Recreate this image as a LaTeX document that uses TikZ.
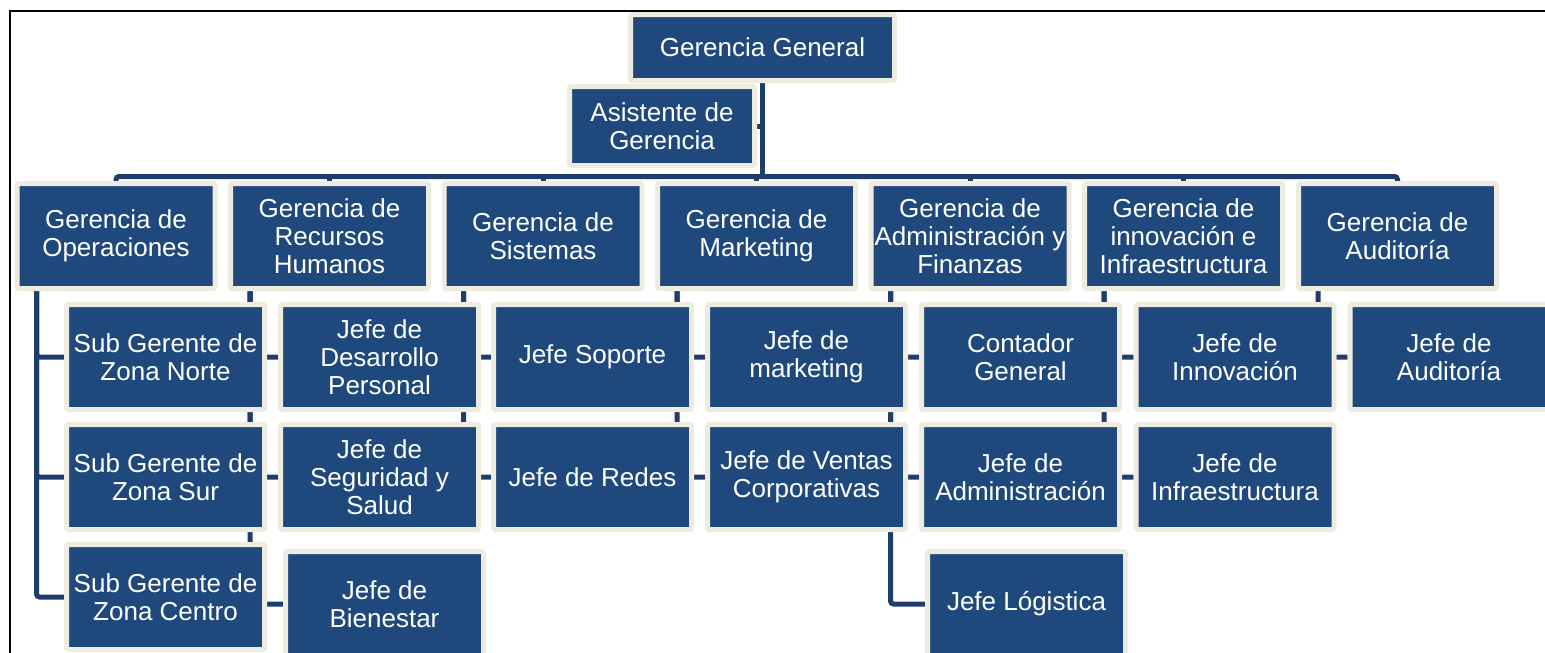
\documentclass[tikz,border=0pt]{standalone}
\usepackage{fontspec}
\setmainfont{Liberation Sans}
\usetikzlibrary{backgrounds}
\definecolor{boxblue}{HTML}{1F497D}
\definecolor{boxcream}{HTML}{EEECE1}
\definecolor{linkblue}{HTML}{1F3D6B}
\tikzset{
  orgbox/.style={draw=boxcream, fill=boxblue, line width=5pt, text=white, align=center,
    font=\fontsize{26}{28}\selectfont, inner sep=0pt, rounded corners=1.5pt},
  gbox/.style={orgbox, minimum width=198pt, minimum height=105pt},
  link/.style={draw=linkblue, line width=5pt},
  frameline/.style={draw=black, line width=2pt}
}
\begin{document}
\begin{tikzpicture}[x=1pt,y=-1pt]
\useasboundingbox (0,0) rectangle (1545,653);
% top level
\node[orgbox, minimum width=264pt, minimum height=66pt] (gg) at (762.5,47.5) {Gerencia General};
\node[orgbox, minimum width=185pt, minimum height=79pt] (asis) at (662,126) {Asistente de\\Gerencia};
% gerencias
\node[gbox] (gop) at (116,236) {Gerencia de\\Operaciones};
\node[gbox] (grh) at (329.5,236) {Gerencia de\\Recursos\\Humanos};
\node[gbox] (gsi) at (543,236) {Gerencia de\\Sistemas};
\node[gbox] (gmk) at (756.5,236) {Gerencia de\\Marketing};
\node[gbox] (gaf) at (970,236) {Gerencia de\\Administración y\\Finanzas};
\node[gbox] (gin) at (1183.5,236) {Gerencia de\\innovación e\\Infraestructura};
\node[gbox] (gau) at (1397.5,236) {Gerencia de\\Auditoría};
% row 1
\node[gbox] (sz1) at (165.5,357) {Sub Gerente de\\Zona Norte};
\node[gbox] (jdp) at (379.5,357) {Jefe de\\Desarrollo\\Personal};
\node[gbox] (jsop) at (592.5,357) {Jefe Soporte};
\node[gbox] (jmk) at (806.5,357) {Jefe de\\marketing};
\node[gbox] (jcont) at (1020.5,357) {Contador\\General};
\node[gbox] (jinn) at (1235,357) {Jefe de\\Innovación};
\node[gbox] (jaud) at (1449,357) {Jefe de\\Auditoría};
% row 2
\node[gbox] (sz2) at (165.5,477) {Sub Gerente de\\Zona Sur};
\node[gbox] (jseg) at (379.5,477) {Jefe de\\Seguridad y\\Salud};
\node[gbox] (jred) at (592.5,477) {Jefe de Redes};
\node[gbox] (jven) at (806.5,477) {Jefe de Ventas\\Corporativas};
\node[gbox] (jadm) at (1020.5,477) {Jefe de\\Administración};
\node[gbox] (jinf) at (1235,477) {Jefe de\\Infraestructura};
% row 3
\node[gbox] (sz3) at (165.5,597) {Sub Gerente de\\Zona Centro};
\node[gbox] (jbien) at (384.5,604) {Jefe de\\Bienestar};
\node[gbox] (jlog) at (1026.5,604) {Jefe Lógistica};
\coordinate (bar) at (0,176.5);
\begin{scope}[on background layer]
  \draw[frameline] (9.5,653) -- (9.5,11) -- (1545,11);
  \draw[link] (gg.south) -- (gg.south |- bar);
  \draw[link] (asis.east) -- (asis.east -| gg.south);
  \draw[link, rounded corners=3pt] (gop.north) -- (gop.north |- bar) -- (gau.north |- bar) -- (gau.north);
  \foreach \g in {grh,gsi,gmk,gaf,gin} {\draw[link] (\g.north) -- (\g.north |- bar);}
  \begin{scope}[rounded corners=3pt]
  \foreach \c in {sz1,sz2,sz3} {\draw[link] ([xshift=22pt]gop.south west) |- (\c.west);}
  \foreach \c in {jdp,jseg,jbien} {\draw[link] ([xshift=22pt]grh.south west) |- (\c.west);}
  \foreach \c in {jsop,jred} {\draw[link] ([xshift=22pt]gsi.south west) |- (\c.west);}
  \foreach \c in {jmk,jven} {\draw[link] ([xshift=22pt]gmk.south west) |- (\c.west);}
  \foreach \c in {jcont,jadm,jlog} {\draw[link] ([xshift=22pt]gaf.south west) |- (\c.west);}
  \foreach \c in {jinn,jinf} {\draw[link] ([xshift=22pt]gin.south west) |- (\c.west);}
  \draw[link] ([xshift=22pt]gau.south west) |- (jaud.west);
  \end{scope}
\end{scope}
\end{tikzpicture}
\end{document}
